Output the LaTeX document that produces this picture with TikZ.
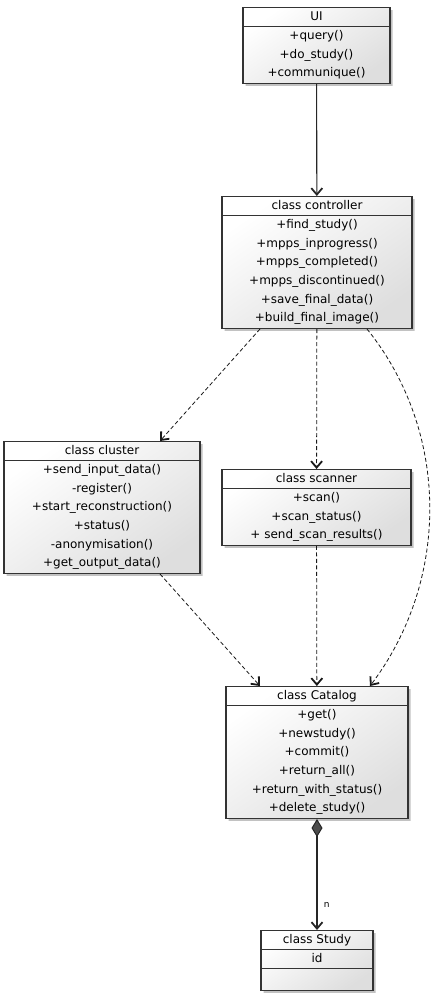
\documentclass[tikz,border=0pt]{standalone}
\usepackage{fontspec}
\setmainfont{DejaVu Sans}
\usetikzlibrary{shapes.multipart, shadows, arrows.meta, positioning}
\newcommand{\rw}{\rule[-6pt]{0pt}{18.7pt}} % one method row
\newcommand{\tr}{\rule[-5.4pt]{0pt}{17.5pt}} % title row
\tikzset{
x=1pt, y=-1pt,
>={Straight Barb[length=6.5pt,width=11pt,line width=1.8pt]}, % open uml arrow head
umlclass/.style={rectangle split, rectangle split parts=2, anchor=north,
  draw=black!80, line width=1.1pt, align=center, inner xsep=4pt, inner ysep=0pt,
  top color=white, bottom color=gray!26, shading angle=35,
  drop shadow={shadow xshift=2.5pt, shadow yshift=-2.5pt, fill=black!40, opacity=.6},
  font=\fontsize{12}{18.7}\selectfont},
uses/.style={->, draw=black!90, line width=0.8pt, dash pattern=on 4pt off 2.5pt},
calls/.style={->, draw=black!85, line width=1.1pt},
}
\begin{document}
\begin{tikzpicture}
            \useasboundingbox (0,0) rectangle (439,993);
            \node[umlclass, minimum width=147pt] (ui) at (316.5,7)
                {\tr UI \nodepart{two} \rw +query()\\ \rw +do\_study()\\ \rw +communique()};
            \node[umlclass, minimum width=190pt] (controller) at (317,196)
                {\tr class controller \nodepart{two} \rw +find\_study()\\ \rw +mpps\_inprogress()\\
                 \rw +mpps\_completed()\\ \rw +mpps\_discontinued()\\ \rw +save\_final\_data()\\
                 \rw +build\_final\_image()};
            \node[umlclass, minimum width=196pt] (cluster) at (102,441)
                {\tr class cluster \nodepart{two} \rw +send\_input\_data()\\ \rw -register()\\
                 \rw +start\_reconstruction()\\ \rw +status()\\ \rw -anonymisation()\\
                 \rw +get\_output\_data()};
            \node[umlclass, minimum width=189pt] (scanner) at (316.5,469)
                {\tr class scanner \nodepart{two} \rw +scan()\\ \rw +scan\_status()\\
                 \rw + send\_scan\_results()};
            \node[umlclass, minimum width=182pt] (catalog) at (317,686)
                {\tr class Catalog \nodepart{two} \rw +get()\\ \rw +newstudy()\\ \rw +commit()\\
                 \rw +return\_all()\\ \rw +return\_with\_status()\\ \rw +delete\_study()};
            \node[umlclass, rectangle split parts=3, minimum width=112pt] (study) at (317,930)
                {\rule[-5.5pt]{0pt}{18pt}class Study \nodepart{two} \rule[-5.5pt]{0pt}{18pt}id
                 \nodepart{three} \rule{0pt}{21pt}};
            \draw
                (ui) edge[calls] (controller)
                ([xshift=-57pt]controller.south) edge[uses] ([xshift=58pt]cluster.north)
                (controller) edge[uses] (scanner)
                ([xshift=58pt]cluster.south) edge[uses] ([xshift=-57pt]catalog.north)
                (scanner) edge[uses] (catalog)
                ;
            \draw[uses] ([xshift=50pt]controller.south) .. controls +(83,103) and +(80,-106) .. ([xshift=53pt]catalog.north);
            \draw[calls, {Diamond[length=18pt,width=11pt,fill=black!70,line width=1pt]}->] (catalog) -- (study)
                node[pos=0.77, right=3pt, font=\fontsize{9}{10}\selectfont] {n};
        \end{tikzpicture}
\end{document}
